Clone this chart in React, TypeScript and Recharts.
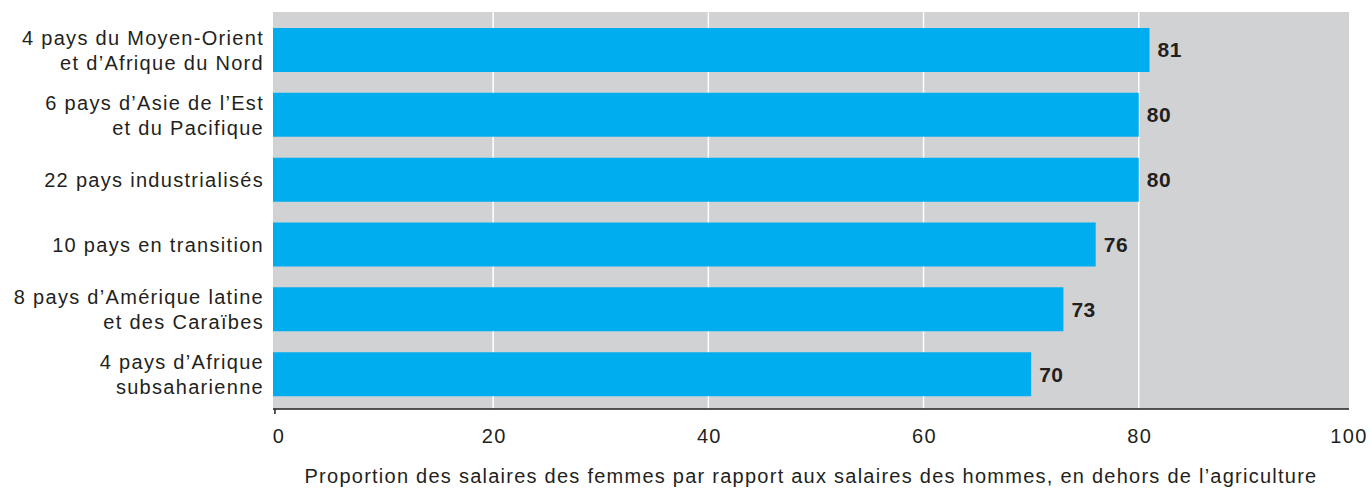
import { BarChart, Bar, XAxis, YAxis, LabelList, CartesianGrid } from 'recharts'

const CATEGORIES = [
  '4 pays du Moyen-Orient\net d’Afrique du Nord',
  '6 pays d’Asie de l’Est\net du Pacifique',
  '22 pays industrialisés',
  '10 pays en transition',
  '8 pays d’Amérique latine\net des Caraïbes',
  '4 pays d’Afrique\nsubsaharienne',
]
const VALUES = [81, 80, 80, 76, 73, 70]
const X_TICKS = [0, 20, 40, 60, 80, 100]
const GRID_AT = [20, 40, 60, 80]
const AXIS_MIN = -0.46
const AXIS_MAX = 99.54
const X_TITLE = 'Proportion des salaires des femmes par rapport aux salaires des hommes, en dehors de l’agriculture'

const DATA = CATEGORIES.map((name, i) => ({ name, value: VALUES[i] }))

const FONT = '"Liberation Sans", Arial, sans-serif'
const INK = '#231F20'
const GRAY = '#D1D2D4'
const BLUE = '#00AEEF'

function CategoryTick({ x, y, payload }: any) {
  const lines = String(payload.value).split('\n')
  const first = y + 7 - ((lines.length - 1) * 25) / 2
  return (
    <text x={x} y={first} textAnchor="end" fill={INK} fontSize={20} fontFamily={FONT} letterSpacing={1.3}>
      {lines.map((l, i) => (
        <tspan key={i} x={x} y={first + i * 25}>{l}</tspan>
      ))}
    </text>
  )
}

function ValueTick({ x, payload }: any) {
  const last = payload.value === 100
  return (
    <g>
      {payload.value === 0 && <line x1={x - 3} x2={x - 3} y1={409} y2={414} stroke={INK} strokeWidth={1.5} />}
      <text x={last ? x - 5 : x + 1} y={443} textAnchor="middle" fill={INK} fontSize={20} fontFamily={FONT} letterSpacing={1.3}>
        {payload.value}
      </text>
    </g>
  )
}

// grid lines at the data values, through the axis scale when it is callable
function gridX({ xAxis, offset }: any) {
  const s = xAxis && xAxis.scale
  return GRID_AT.map((v) => {
    if (typeof s === 'function') return s(v)
    if (s && typeof s.map === 'function') return s.map(v)
    return offset.left + ((v - AXIS_MIN) / (AXIS_MAX - AXIS_MIN)) * offset.width
  })
}

export default function App() {
  return (
    <div style={{ position: 'absolute', left: 0, top: 0, background: '#fff' }}>
      <BarChart
        width={1371}
        height={489}
        data={DATA}
        layout="vertical"
        margin={{ top: 12, right: 22, bottom: 0, left: 0 }}
      >
        <CartesianGrid
          fill={GRAY}
          horizontal={false}
          stroke="#ffffff"
          strokeWidth={1.5}
          strokeOpacity={1}
          verticalCoordinatesGenerator={gridX}
        />
        <XAxis
          type="number"
          domain={[AXIS_MIN, AXIS_MAX]}
          allowDataOverflow
          ticks={X_TICKS}
          interval={0}
          height={80}
          tickLine={false}
          axisLine={{ stroke: INK, strokeWidth: 1.5 }}
          tick={<ValueTick />}
          label={{
            value: X_TITLE,
            position: 'insideBottom',
            offset: 6,
            fill: INK,
            fontSize: 20,
            fontFamily: FONT,
            letterSpacing: 1.25,
          }}
        />
        <YAxis
          type="category"
          dataKey="name"
          width={273}
          padding={{ top: 6, bottom: 2 }}
          axisLine={false}
          tickLine={false}
          tickMargin={3}
          tick={<CategoryTick />}
        />
        <Bar
          dataKey={(d: any) => [AXIS_MIN, d.value]}
          fill={BLUE}
          barSize={44}
          isAnimationActive={false}
        >
          <LabelList
            dataKey="value"
            position="right"
            offset={8}
            fill={INK}
            fontSize={21}
            fontWeight="bold"
            fontFamily={FONT}
            letterSpacing={0.5}
          />
        </Bar>
      </BarChart>
    </div>
  )
}
